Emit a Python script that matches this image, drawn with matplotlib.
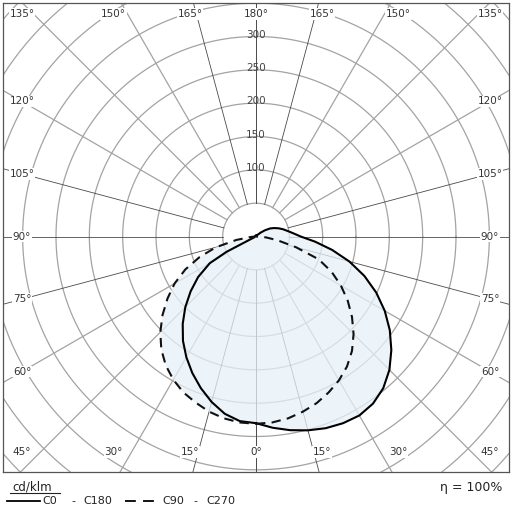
import numpy as np
import matplotlib.pyplot as plt
from matplotlib.path import Path
from matplotlib.patches import PathPatch

# luminous intensity, cd/klm
gamma_c0 = [0, 5, 10, 15, 20, 25, 30, 35, 40, 45, 50, 55, 60, 65, 70, 75, 80, 85, 90,
            95, 100, 105, 110, 115, 120, 125, 130, 135, 140, 160, 180]
c0 = [280, 288, 295, 301, 306, 309, 310, 306, 297, 283, 265, 245, 223, 199, 173, 145, 116, 89, 67,
      56, 48, 42, 36, 30, 24, 16, 9, 4, 2, 2, 2]

gamma_c180 = [0, 5, 10, 15, 20, 25, 30, 35, 40, 45, 50, 55, 60, 62.5, 65, 90, 180]
c180 = [280, 278, 270, 257, 242, 226, 209, 191, 171, 150, 128, 106, 80, 50, 3, 2, 2]

gamma_c90 = [0, 5, 10, 15, 20, 25, 30, 35, 40, 45, 50, 55, 60, 65, 70, 75, 80, 85, 90, 180]
c90 = [281, 280, 277, 272, 266, 258, 249, 238, 224, 207, 188, 168, 147, 125, 100, 62, 33, 15, 0, 0]

gamma_c270 = [0, 5, 10, 15, 20, 25, 30, 35, 40, 45, 50, 55, 60, 65, 70, 75, 80, 85, 90, 180]
c270 = [281, 280, 277, 272, 265, 258, 248, 236, 221, 203, 183, 162, 141, 117, 90, 62, 30, 8, 0, 0]

rings = [50, 100, 150, 200, 250, 300, 350, 400, 450, 500]
ring_labels = [100, 150, 200, 250, 300]
spokes = list(range(0, 181, 15))
dark_spokes = [0, 15, 75, 90, 105, 165, 180]


def to_xy(gamma, values, side):
    g = np.radians(gamma)
    r = np.asarray(values, dtype=float)
    return side * r * np.sin(g), -r * np.cos(g)


def closed_curve(g_right, v_right, g_left, v_left):
    xr, yr = to_xy(g_right, v_right, 1)
    xl, yl = to_xy(g_left[::-1], v_left[::-1], -1)
    return np.concatenate([xr, xl]), np.concatenate([yr, yl])


def label_pos(g, side):
    dx = side * np.sin(np.radians(g))
    dy = -np.cos(np.radians(g))
    t = min(351 / abs(dx) if abs(dx) > 1e-9 else np.inf,
            370 / abs(dy) if abs(dy) > 1e-9 else np.inf)
    x = np.clip(t * dx, -351, 351)
    y = np.clip(t * dy, -323, 334)
    return x, y


fig = plt.figure(figsize=(5.12, 5.12), dpi=100)
ax = fig.add_axes([3 / 512, 40 / 512, 506 / 512, 469 / 512])
ax.set_xlim(-379.5, 379.5)
ax.set_ylim(-353.25, 350.25)
ax.set_xticks([])
ax.set_yticks([])
for s in ax.spines.values():
    s.set_color('#555555')
    s.set_linewidth(0.9)

# grid
th = np.linspace(0, 2 * np.pi, 400)
for r in rings:
    ax.plot(r * np.cos(th), r * np.sin(th), color='#a3a3a3', lw=0.9, zorder=1)
for g in spokes:
    for side in (1, -1):
        x, y = to_xy([g, g], [50, 700], side)
        if g in dark_spokes:
            ax.plot(x, y, color='#4a4a4a', lw=0.6, zorder=1)
        else:
            ax.plot(x, y, color='#a3a3a3', lw=0.9, zorder=1)

# curves
sx, sy = closed_curve(gamma_c0, c0, gamma_c180, c180)
dx, dy = closed_curve(gamma_c90, c90, gamma_c270, c270)

verts = np.concatenate([np.column_stack([sx, sy]), [[sx[0], sy[0]]],
                        np.column_stack([dx, dy]), [[dx[0], dy[0]]]])
codes = ([Path.MOVETO] + [Path.LINETO] * (len(sx) - 1) + [Path.CLOSEPOLY] +
         [Path.MOVETO] + [Path.LINETO] * (len(dx) - 1) + [Path.CLOSEPOLY])
ax.add_patch(PathPatch(Path(verts, codes), facecolor='#e8f1f8', edgecolor='none',
                       alpha=0.75, zorder=2))

ax.plot(np.append(sx, sx[0]), np.append(sy, sy[0]), color='black', lw=1.5, zorder=3,
        solid_joinstyle='round')
ax.plot(np.append(dx, dx[0]), np.append(dy, dy[0]), color='#111111', lw=1.5,
        dashes=(4.5, 3), zorder=3)

# labels
for g in spokes:
    sides = (1,) if g in (0, 180) else (1, -1)
    for side in sides:
        x, y = label_pos(g, side)
        ax.text(x, y, f"{g}°", ha='center', va='center', fontsize=7.5, color='#333333',
                zorder=4, bbox=dict(facecolor='white', edgecolor='none', pad=0.6))
for r in ring_labels:
    ax.text(0, r + 3, str(r), ha='center', va='center', fontsize=7.5, color='#444444', zorder=4)

# footer
fig.text(12 / 512, 1 - 487 / 512, "cd/klm", fontsize=8.5, va='center', color='#222222')
fig.add_artist(plt.Line2D([10 / 512, 60 / 512], [1 - 493 / 512, 1 - 493 / 512],
                          color='#222222', lw=0.8))
fig.text(502 / 512, 1 - 487 / 512, "η = 100%", fontsize=9, ha='right', va='center',
         color='#222222')
ly = 1 - 501 / 512
fig.add_artist(plt.Line2D([7 / 512, 40 / 512], [ly, ly], color='black', lw=1.3))
fig.add_artist(plt.Line2D([125 / 512, 157 / 512], [ly, ly], color='black', lw=1.3,
                          dashes=(6, 4)))
for txt, xp in [("C0", 42), ("-", 71), ("C180", 83), ("C90", 162), ("-", 193), ("C270", 206)]:
    fig.text(xp / 512, ly, txt, fontsize=8, va='center', color='#222222')

fig.savefig("out.png", dpi=100)
